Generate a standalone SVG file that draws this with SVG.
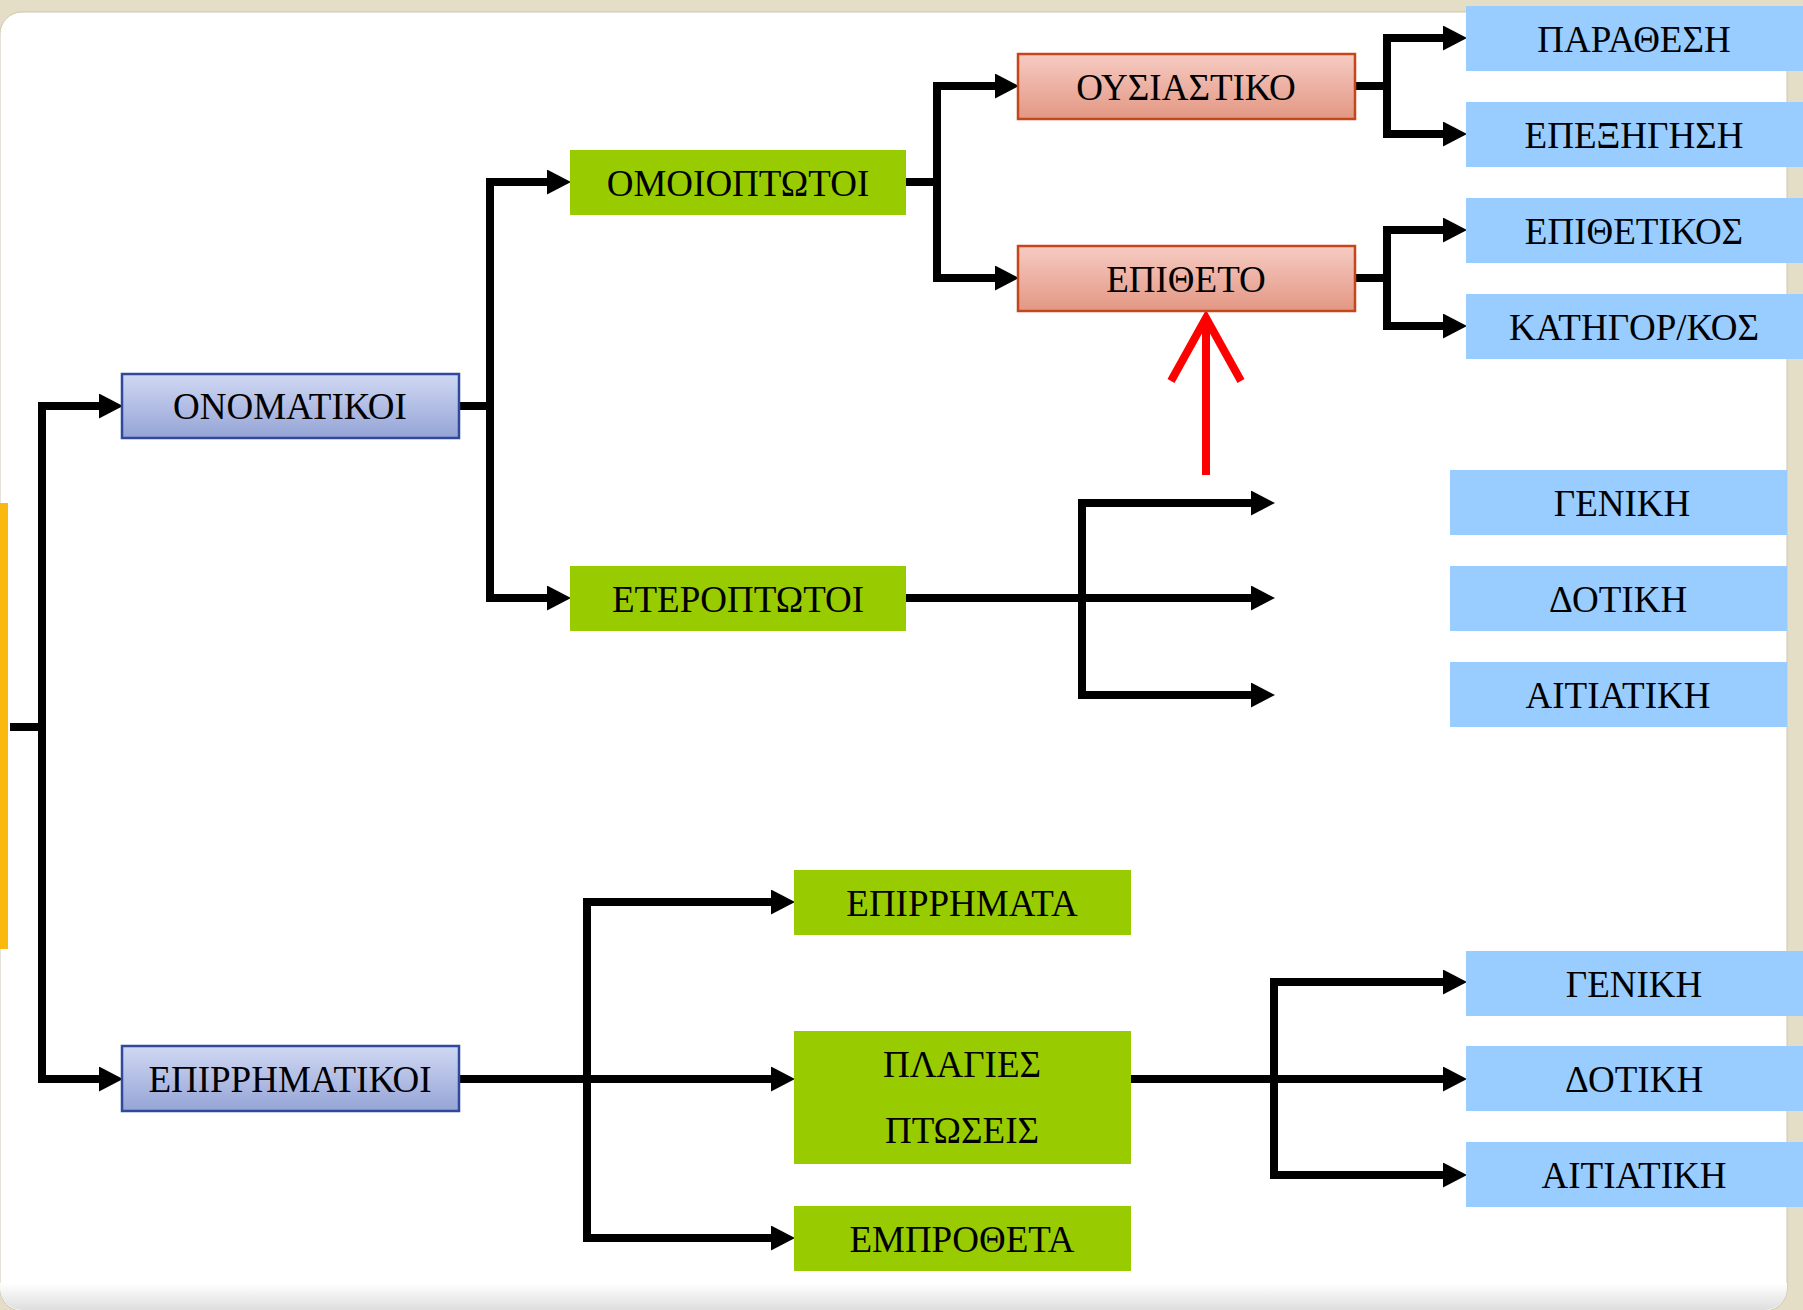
<svg xmlns="http://www.w3.org/2000/svg" width="1803" height="1310" viewBox="0 0 1803 1310">
  <defs>
    <linearGradient id="gBlue" x1="0" y1="0" x2="0" y2="1">
      <stop offset="0" stop-color="#d0d8f3"/>
      <stop offset="1" stop-color="#95a4d6"/>
    </linearGradient>
    <linearGradient id="gRed" x1="0" y1="0" x2="0" y2="1">
      <stop offset="0" stop-color="#f6cbc3"/>
      <stop offset="1" stop-color="#e39783"/>
    </linearGradient>
    <linearGradient id="gShade" x1="0" y1="0" x2="0" y2="1">
      <stop offset="0" stop-color="#ffffff"/>
      <stop offset="1" stop-color="#dedede"/>
    </linearGradient>
    <marker id="ah" markerUnits="userSpaceOnUse" markerWidth="25" markerHeight="26" refX="0" refY="12.5" orient="auto">
      <path d="M0,0 L24,12.5 L0,25 Z" fill="#000"/>
    </marker>
    <style>
      .lbl { font-family: "Liberation Serif", "Times New Roman", serif; font-size: 37px; fill: #000; text-anchor: middle; }
      .nBlue { fill: url(#gBlue); stroke: #2f4a9c; stroke-width: 2.5; }
      .nRed { fill: url(#gRed); stroke: #c4461a; stroke-width: 2.5; }
      .nGreen { fill: #99cc00; }
      .nLight { fill: #99ccff; }
      .con { fill: none; stroke: #000; stroke-width: 8; stroke-linejoin: miter; }
      .arr { marker-end: url(#ah); }
      .red { fill: none; stroke: #ff0000; stroke-width: 8; stroke-linejoin: miter; }
    </style>
  </defs>

  <!-- background -->
  <rect x="0" y="0" width="1803" height="1310" fill="#e5dec6"/>
  <rect x="0" y="12" width="1787" height="1299" rx="22" ry="22" fill="#ffffff" stroke="#cdc6b0" stroke-width="1"/>
  <path d="M0,1283 H1787 V1288 A22,22 0 0 1 1765,1310 H22 A22,22 0 0 1 0,1288 Z" fill="url(#gShade)"/>
  <rect x="0" y="503" width="8" height="446" fill="#fbb80f"/>

  <!-- connectors -->
  <g id="connectors">
    <path class="con" d="M10,727 H42"/>
    <path class="con arr" d="M42,727 V406 H99"/>
    <path class="con arr" d="M42,727 V1079 H99"/>

    <path class="con" d="M459,406 H490"/>
    <path class="con arr" d="M490,406 V182 H547"/>
    <path class="con arr" d="M490,406 V598 H547"/>

    <path class="con" d="M906,182 H937"/>
    <path class="con arr" d="M937,182 V86 H995"/>
    <path class="con arr" d="M937,182 V278 H995"/>

    <path class="con" d="M1355,86 H1387"/>
    <path class="con arr" d="M1387,86 V38 H1443"/>
    <path class="con arr" d="M1387,86 V134 H1443"/>

    <path class="con" d="M1355,278 H1387"/>
    <path class="con arr" d="M1387,278 V230 H1443"/>
    <path class="con arr" d="M1387,278 V326 H1443"/>

    <path class="con arr" d="M906,598 H1251"/>
    <path class="con arr" d="M1082,598 V503 H1251"/>
    <path class="con arr" d="M1082,598 V695 H1251"/>

    <path class="con arr" d="M459,1079 H771"/>
    <path class="con arr" d="M587,1079 V902 H771"/>
    <path class="con arr" d="M587,1079 V1238 H771"/>

    <path class="con arr" d="M1131,1079 H1443"/>
    <path class="con arr" d="M1274,1079 V982 H1443"/>
    <path class="con arr" d="M1274,1079 V1175 H1443"/>

    <path class="red" d="M1206,475 V318"/>
    <path class="red" d="M1171,381 L1206,318 L1241,381"/>
  </g>

  <!-- nodes -->
  <g id="onomatikoi"><rect class="nBlue" x="122" y="374" width="337" height="64"/><text class="lbl" x="290" y="419">ΟΝΟΜΑΤΙΚΟΙ</text></g>
  <g id="epirrimatikoi"><rect class="nBlue" x="122" y="1046" width="337" height="65"/><text class="lbl" x="290" y="1092">ΕΠΙΡΡΗΜΑΤΙΚΟΙ</text></g>

  <g id="omoioptotoi"><rect class="nGreen" x="570" y="150" width="336" height="65"/><text class="lbl" x="738" y="196">ΟΜΟΙΟΠΤΩΤΟΙ</text></g>
  <g id="eteroptotoi"><rect class="nGreen" x="570" y="566" width="336" height="65"/><text class="lbl" x="738" y="612">ΕΤΕΡΟΠΤΩΤΟΙ</text></g>

  <g id="ousiastiko"><rect class="nRed" x="1018" y="54" width="337" height="65"/><text class="lbl" x="1186" y="100">ΟΥΣΙΑΣΤΙΚΟ</text></g>
  <g id="epitheto"><rect class="nRed" x="1018" y="246" width="337" height="65"/><text class="lbl" x="1186" y="292">ΕΠΙΘΕΤΟ</text></g>

  <g id="parathesi"><rect class="nLight" x="1466" y="6" width="337" height="65"/><text class="lbl" x="1634" y="52">ΠΑΡΑΘΕΣΗ</text></g>
  <g id="epexigisi"><rect class="nLight" x="1466" y="102" width="337" height="65"/><text class="lbl" x="1634" y="148">ΕΠΕΞΗΓΗΣΗ</text></g>
  <g id="epithetikos"><rect class="nLight" x="1466" y="198" width="337" height="65"/><text class="lbl" x="1634" y="244">ΕΠΙΘΕΤΙΚΟΣ</text></g>
  <g id="katigorikos"><rect class="nLight" x="1466" y="294" width="337" height="65"/><text class="lbl" x="1634" y="340">ΚΑΤΗΓΟΡ/ΚΟΣ</text></g>

  <g id="geniki1"><rect class="nLight" x="1450" y="470" width="337" height="65"/><text class="lbl" x="1622" y="516">ΓΕΝΙΚΗ</text></g>
  <g id="dotiki1"><rect class="nLight" x="1450" y="566" width="337" height="65"/><text class="lbl" x="1618" y="612">ΔΟΤΙΚΗ</text></g>
  <g id="aitiatiki1"><rect class="nLight" x="1450" y="662" width="337" height="65"/><text class="lbl" x="1618" y="708">ΑΙΤΙΑΤΙΚΗ</text></g>

  <g id="epirrimata"><rect class="nGreen" x="794" y="870" width="337" height="65"/><text class="lbl" x="962" y="916">ΕΠΙΡΡΗΜΑΤΑ</text></g>
  <g id="plagies"><rect class="nGreen" x="794" y="1031" width="337" height="133"/><text class="lbl" x="962" y="1077">ΠΛΑΓΙΕΣ</text><text class="lbl" x="962" y="1143">ΠΤΩΣΕΙΣ</text></g>
  <g id="emprotheta"><rect class="nGreen" x="794" y="1206" width="337" height="65"/><text class="lbl" x="962" y="1252">ΕΜΠΡΟΘΕΤΑ</text></g>

  <g id="geniki2"><rect class="nLight" x="1466" y="951" width="337" height="65"/><text class="lbl" x="1634" y="997">ΓΕΝΙΚΗ</text></g>
  <g id="dotiki2"><rect class="nLight" x="1466" y="1046" width="337" height="65"/><text class="lbl" x="1634" y="1092">ΔΟΤΙΚΗ</text></g>
  <g id="aitiatiki2"><rect class="nLight" x="1466" y="1142" width="337" height="65"/><text class="lbl" x="1634" y="1188">ΑΙΤΙΑΤΙΚΗ</text></g>
</svg>
